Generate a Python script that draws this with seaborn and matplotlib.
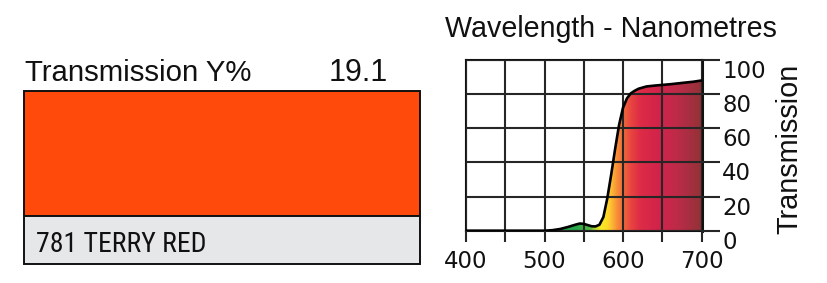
import numpy as np
import pandas as pd
import matplotlib
matplotlib.use('Agg')
import matplotlib.pyplot as plt
import seaborn as sns
from matplotlib.colors import LinearSegmentedColormap
from matplotlib.patches import Rectangle
from matplotlib import font_manager

# ---------------- data ----------------
filter_name = "781 TERRY RED"
transmission_y = "19.1"
swatch_color = "#FF4A0C"
label_bg = "#E6E7E9"

wavelength = [400, 500, 510, 520, 530, 540, 545, 550, 555, 560, 565, 570, 575,
              580, 585, 590, 595, 600, 605, 610, 615, 620, 630, 640, 650, 660,
              670, 680, 690, 700]
transmission = [0, 0, 0.3, 1.0, 2.2, 3.6, 4.2, 4.0, 3.3, 2.6, 2.5, 3.5, 8,
                19, 33, 48, 62, 72, 77.5, 80.5, 82, 83.2, 84.5, 85, 85.4, 85.8,
                86.3, 86.8, 87.3, 88]

x_ticks = [400, 450, 500, 550, 600, 650, 700]
x_tick_labels = ["400", "", "500", "", "600", "", "700"]
y_ticks = [0, 20, 40, 60, 80, 100]

spec_wl = [400, 540, 558, 565, 572, 580, 586, 592, 600, 610, 622, 645, 662, 680, 700]
spec_col = ['#1f9a4d', '#27a84a', '#5ab845', '#c0d830', '#f8ea22', '#ffd82a',
            '#fdb534', '#f79038', '#f06a3a', '#e84540', '#dd2c47', '#d2234a',
            '#c4294a', '#ae2e44', '#913236']

# ---------------- fonts ----------------
installed = {f.name for f in font_manager.fontManager.ttflist}
narrow_font = None
for cand in ['Liberation Sans Narrow', 'Roboto Condensed', 'Open Sans Condensed',
             'Noto Sans Condensed', 'DejaVu Sans Condensed']:
    if cand in installed:
        narrow_font = cand
        break
if narrow_font is None:
    narrow_font = 'Roboto' if 'Roboto' in installed else 'Liberation Sans'
    narrow_size = 18
else:
    narrow_size = 20

# ---------------- figure ----------------
sns.set_theme(style='white')
plt.rcParams['font.family'] = ['Liberation Sans', 'DejaVu Sans']

W, H = 827, 283
fig = plt.figure(figsize=(W / 100, H / 100), dpi=100)

def fx(px):
    return px / W

def fy(py):
    return 1 - py / H

# left panel: swatch + label
bg = fig.add_axes([0, 0, 1, 1])
bg.set_xlim(0, W)
bg.set_ylim(H, 0)
bg.axis('off')
bg.add_patch(Rectangle((24, 90.7), 396, 125, facecolor=swatch_color,
                       edgecolor='#111111', lw=1.4))
bg.add_patch(Rectangle((24, 215.7), 396, 48.6, facecolor=label_bg,
                       edgecolor='#111111', lw=1.4))
bg.text(25, 80.7, "Transmission Y%", fontsize=21.2, color='#111111',
        ha='left', va='baseline')
bg.text(388, 80.7, transmission_y, fontsize=22, color='#111111',
        ha='right', va='baseline')
bg.text(36, 251.7, filter_name, fontsize=narrow_size, color='#111111',
        family=[narrow_font, 'DejaVu Sans'],
        ha='left', va='baseline')

# right panel: transmission curve
ax = fig.add_axes([fx(466), fy(230.7), fx(701.5) - fx(466), fy(60) - fy(230.7)])
df = pd.DataFrame({'wavelength': wavelength, 'transmission': transmission})

# spectral gradient fill, clipped to area under curve
pos = [(w - 400) / 300 for w in spec_wl]
cmap = LinearSegmentedColormap.from_list('spec', list(zip(pos, spec_col)))
grad = np.linspace(0, 1, 600).reshape(1, -1)
im = ax.imshow(grad, cmap=cmap, extent=[400, 700, 0, 100], aspect='auto',
               origin='lower', zorder=0)
poly = ax.fill_between(df['wavelength'], df['transmission'], 0,
                       facecolor='none', edgecolor='none')
im.set_clip_path(poly.get_paths()[0], transform=ax.transData)

sns.lineplot(data=df, x='wavelength', y='transmission', ax=ax, color='black',
             lw=1.9, zorder=5)

ax.set_xlim(400, 700)
ax.set_ylim(0, 100)
ax.set_xticks(x_ticks)
ax.set_xticklabels(x_tick_labels)
ax.set_yticks(y_ticks)
ax.set_xlabel('')
ax.set_ylabel('')
ax.yaxis.tick_right()
ax.grid(True, color='#262626', lw=1.5, zorder=3)
ax.set_axisbelow(False)
ax.tick_params(axis='x', length=8, width=1.5, color='#262626', pad=6,
               labelsize=16.5, labelcolor='#111111', direction='out', bottom=True)
ax.tick_params(axis='y', length=13, width=1.5, color='#262626', pad=2,
               labelsize=16.5, labelcolor='#111111', direction='out', right=True, left=False)
for lab in ax.get_xticklabels() + ax.get_yticklabels():
    lab.set_family('DejaVu Sans')
for lab in ax.get_yticklabels():
    lab.set_va('top')
for side in ['left', 'top', 'bottom']:
    ax.spines[side].set_color('#111111')
    ax.spines[side].set_linewidth(1.5)
ax.spines['right'].set_color('#111111')
ax.spines['right'].set_linewidth(2.2)

fig.text(fx(610.5), fy(36.7), "Wavelength - Nanometres", fontsize=20.6,
         color='#111111', ha='center', va='baseline')
fig.text(fx(797), fy(149), "Transmission", fontsize=20.8, color='#111111',
         rotation=90, rotation_mode='anchor', ha='center', va='baseline')

fig.savefig('out.png', dpi=100, facecolor='white')
